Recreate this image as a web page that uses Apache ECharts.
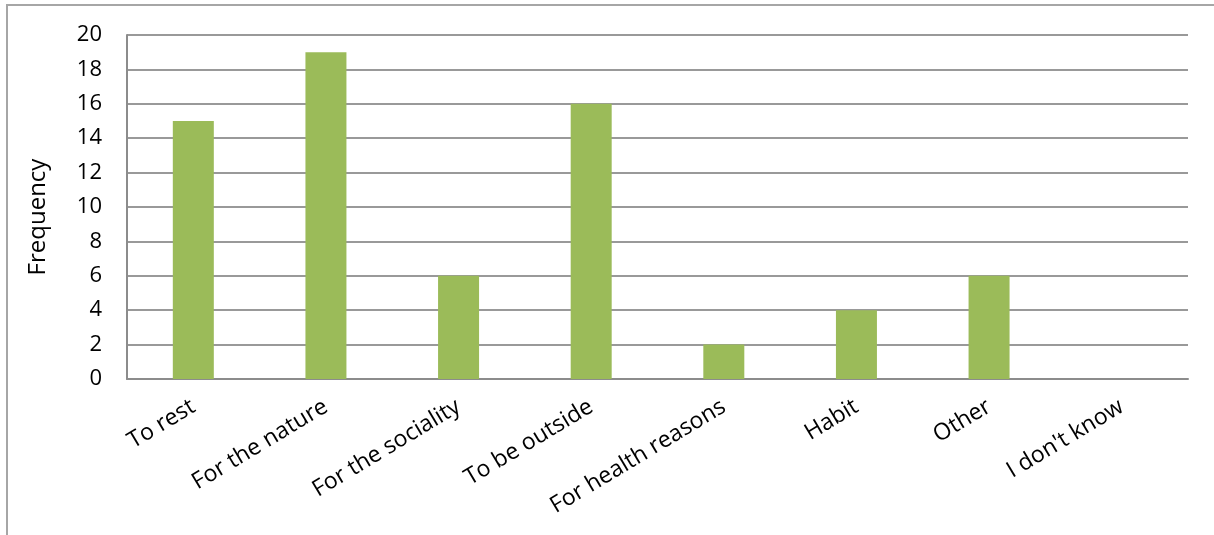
<!DOCTYPE html>
<html><head><meta charset="utf-8">
<script src="https://cdn.jsdelivr.net/npm/echarts@6/dist/echarts.min.js"></script>
<style>html,body{margin:0;padding:0;background:#fff}#c{width:1214px;height:535px}</style>
</head><body><div id="c"></div>
<script>
const categories = ["To rest","For the nature","For the sociality","To be outside","For health reasons","Habit","Other","I don't know"];
const frequency = [15,19,6,16,2,4,6,0];
const yTicks = {min:0,max:20,interval:2};

const chart = echarts.init(document.getElementById('c'));
chart.setOption({
  animation:false,
  backgroundColor:'#fff',
  graphic:[{type:'rect',shape:{x:7,y:5,width:1300,height:700},style:{fill:'none',stroke:'#a6a6a6',lineWidth:2},silent:true}],
  grid:{left:127,right:26,top:35,bottom:156,containLabel:false},
  xAxis:{type:'category',data:categories,
    axisLine:{show:true,lineStyle:{color:'#8c8c8c',width:2}},
    axisTick:{show:false},
    axisLabel:{rotate:31,margin:26,fontFamily:'Open Sans',fontSize:23,color:'#000',interval:0}},
  yAxis:{type:'value',min:yTicks.min,max:yTicks.max,interval:yTicks.interval,
    name:'Frequency',nameLocation:'middle',nameGap:77,nameRotate:90,
    nameTextStyle:{fontFamily:'Open Sans',fontSize:24,color:'#000',padding:[0,20,0,0]},
    axisLine:{show:true,lineStyle:{color:'#8c8c8c',width:2}},
    axisTick:{show:false},
    axisLabel:{margin:25,fontFamily:'Open Sans',fontSize:22,color:'#000'},
    splitLine:{show:true,lineStyle:{color:'#999',width:2}}},
  series:[{type:'bar',data:frequency,barWidth:41,itemStyle:{color:'#9BBB59'}}]
});
</script></body></html>
